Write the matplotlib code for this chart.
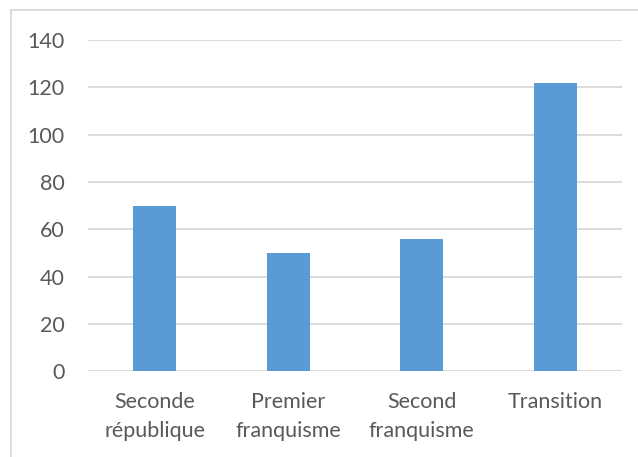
import matplotlib
matplotlib.use("Agg")
import matplotlib.pyplot as plt
from matplotlib.patches import Rectangle

# ── data ──────────────────────────────────────────────────────────────────────
categories = ["Seconde\nrépublique", "Premier\nfranquisme", "Second\nfranquisme", "Transition"]
values = [70, 50, 56, 122]
yticks = [0, 20, 40, 60, 80, 100, 120, 140]

# ── palette ───────────────────────────────────────────────────────────────────
BAR = "#5B9BD5"
GRID = "#D9D9D9"
TXT = "#595959"

plt.rcParams["font.family"] = ["Lato", "DejaVu Sans"]

fig = plt.figure(figsize=(6.38, 4.57), dpi=100, facecolor="white")
ax = fig.add_axes([0.138, 0.188, 0.837, 0.7243])

x = range(len(categories))
ax.bar(x, values, width=0.32, color=BAR, zorder=3)

ax.set_xlim(-0.5, len(categories) - 0.5)
ax.set_ylim(0, 140)
ax.set_yticks(yticks)
ax.set_xticks(list(x))
ax.set_xticklabels(categories, linespacing=1.55)
ax.tick_params(axis="y", length=0, pad=17, labelsize=15.5, colors=TXT)
ax.tick_params(axis="x", length=0, pad=15, labelsize=15.5, colors=TXT)

for s in ax.spines.values():
    s.set_visible(False)
ax.grid(axis="y", color=GRID, linewidth=1.3, zorder=0)

# chart frame (partially cropped in the reference)
fig.patches.append(Rectangle((11 / 638, -0.1), 1.2, 1 - 10 / 457 + 0.1,
                             transform=fig.transFigure, fill=False,
                             edgecolor=GRID, linewidth=1.3))

fig.savefig("out.png", dpi=100, facecolor="white")
